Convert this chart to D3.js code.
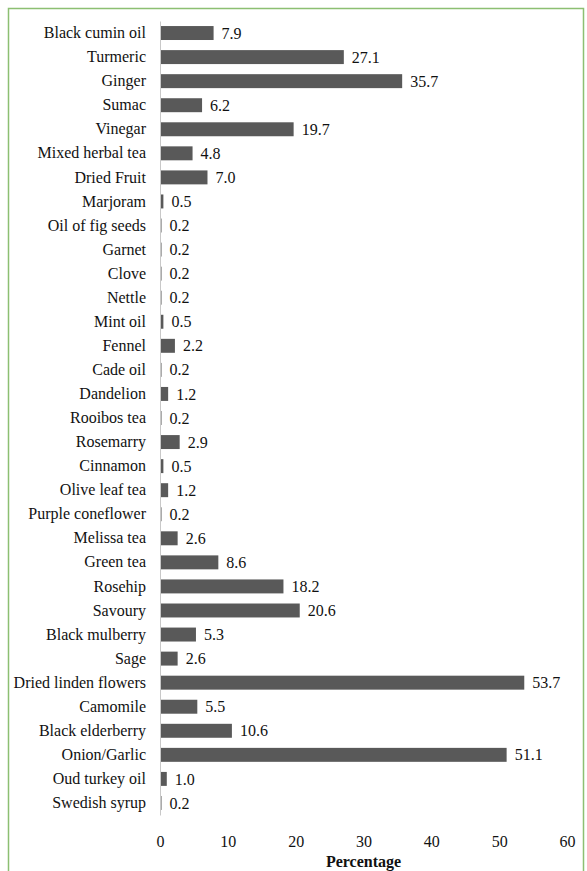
<!DOCTYPE html>
<html>
<head>
<meta charset="utf-8">
<script src="https://cdn.jsdelivr.net/npm/d3@7"></script>
<style>
  body { margin: 0; background: #fff; }
</style>
</head>
<body>
<div id="chart"></div>
<script>
// categories top to bottom
const remedies = [
    'Black cumin oil', 'Turmeric', 'Ginger', 'Sumac', 'Vinegar', 'Mixed herbal tea',
    'Dried Fruit', 'Marjoram', 'Oil of fig seeds', 'Garnet', 'Clove', 'Nettle',
    'Mint oil', 'Fennel', 'Cade oil', 'Dandelion', 'Rooibos tea', 'Rosemarry',
    'Cinnamon', 'Olive leaf tea', 'Purple coneflower', 'Melissa tea', 'Green tea',
    'Rosehip', 'Savoury', 'Black mulberry', 'Sage', 'Dried linden flowers',
    'Camomile', 'Black elderberry', 'Onion/Garlic', 'Oud turkey oil', 'Swedish syrup'
];
const percentages = [
    7.9, 27.1, 35.7, 6.2, 19.7, 4.8,
    7.0, 0.5, 0.2, 0.2, 0.2, 0.2,
    0.5, 2.2, 0.2, 1.2, 0.2, 2.9,
    0.5, 1.2, 0.2, 2.6, 8.6,
    18.2, 20.6, 5.3, 2.6, 53.7,
    5.5, 10.6, 51.1, 1.0, 0.2
];
const xTicks = [0, 10, 20, 30, 40, 50, 60];

const data = remedies.map((name, i) => ({name: name, value: percentages[i]}));

const W = 587, H = 871;
const margin = {top: 21, right: 20, bottom: 56, left: 160};
const FONT = '"Liberation Serif", "DejaVu Serif", serif';

const svg = d3.select('#chart')
              .append('svg')
              .attr('width', W)
              .attr('height', H);

// green frame (open at the bottom)
svg.append('path')
   .attr('d', `M8.5,${H} V8.5 H583.5 V${H}`)
   .attr('fill', 'none')
   .attr('stroke', '#8cbf72')
   .attr('stroke-width', 1.5);

const x = d3.scaleLinear()
            .domain([0, 60])
            .range([margin.left, 567]);
const y = d3.scaleBand()
            .domain(remedies)
            .range([margin.top, H - margin.bottom])
            .paddingInner(0.42)
            .paddingOuter(0.21);

// bars
svg.selectAll('rect.bar')
   .data(data)
   .enter()
   .append('rect')
   .attr('class', 'bar')
   .attr('x', x(0))
   .attr('y', d => y(d.name))
   .attr('width', d => Math.max(1.5, x(d.value) - x(0)))
   .attr('height', y.bandwidth())
   .attr('fill', '#595959');

// value labels
svg.selectAll('text.val')
   .data(data)
   .enter()
   .append('text')
   .attr('class', 'val')
   .attr('x', d => Math.max(x(d.value), x(0) + 1.5) + 8)
   .attr('y', d => y(d.name) + y.bandwidth() / 2)
   .attr('dy', '0.35em')
   .style('font-family', FONT)
   .style('font-size', '16px')
   .attr('fill', '#111')
   .text(d => d.value.toFixed(1));

// y axis: category labels, thin grey line, no ticks
const yAxis = svg.append('g')
   .attr('transform', `translate(${x(0)},0)`)
   .call(d3.axisLeft(y).tickSize(0).tickPadding(14));
yAxis.select('.domain').attr('stroke', '#c8c8c8').attr('stroke-width', 1);
yAxis.selectAll('text')
   .style('font-family', FONT)
   .style('font-size', '16px')
   .attr('fill', '#111');

// x axis: labels only
const xAxis = svg.append('g')
   .attr('transform', `translate(0,${H - margin.bottom + 21})`)
   .call(d3.axisBottom(x).tickValues(xTicks).tickSize(0).tickPadding(0));
xAxis.select('.domain').remove();
xAxis.selectAll('text')
   .style('font-family', FONT)
   .style('font-size', '16px')
   .attr('fill', '#111');

svg.append('text')
   .attr('x', (x(0) + x(60)) / 2)
   .attr('y', 867)
   .attr('text-anchor', 'middle')
   .style('font-family', FONT)
   .style('font-size', '16px')
   .style('font-weight', 'bold')
   .attr('fill', '#111')
   .text('Percentage');
</script>
</body>
</html>
